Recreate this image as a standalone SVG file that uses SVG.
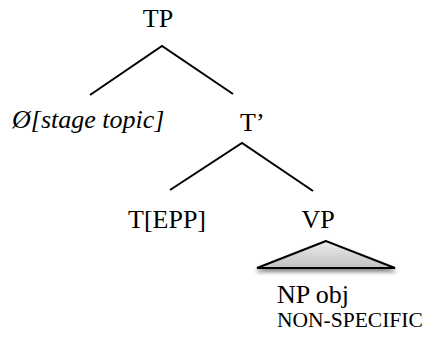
<svg xmlns="http://www.w3.org/2000/svg" width="425" height="337" viewBox="0 0 425 337">
  <style>
    .edge { stroke: #000; stroke-width: 2; fill: none; stroke-linecap: butt; }
  </style>
  <defs>
    <linearGradient id="triFill" x1="0" y1="0" x2="0" y2="1">
      <stop offset="0" stop-color="#ececec"/>
      <stop offset="1" stop-color="#c2c2c2"/>
    </linearGradient>
    <filter id="shadow" x="-20%" y="-20%" width="140%" height="180%">
      <feGaussianBlur in="SourceAlpha" stdDeviation="2"/>
      <feOffset dx="0" dy="3" result="b"/>
      <feComponentTransfer><feFuncA type="linear" slope="0.5"/></feComponentTransfer>
      <feMerge><feMergeNode/><feMergeNode in="SourceGraphic"/></feMerge>
    </filter>
  </defs>
  <rect width="425" height="337" fill="#fff"/>
  <g id="connectors">
    <path class="edge" d="M90,95 L162,46 L233,94"/>
    <path class="edge" d="M170,190 L242,143 L313,191"/>
  </g>
  <g font-family="Liberation Serif" font-size="26" fill="#000">
    <g id="TP"><text x="158" y="27" text-anchor="middle">TP</text></g>
    <g id="stage-topic"><text font-style="italic" x="12" y="128">Ø[stage topic]</text></g>
    <g id="Tbar"><text x="240" y="131">T’</text></g>
    <g id="TEPP"><text x="128" y="228">T[EPP]</text></g>
    <g id="VP"><text x="318" y="228" text-anchor="middle">VP</text></g>
    <g id="NP-triangle">
      <polygon points="326,241 257,268 395,268" fill="url(#triFill)" stroke="#000" stroke-width="2" stroke-linejoin="miter" filter="url(#shadow)"/>
    </g>
    <g id="NPobj">
      <text x="277" y="303">NP obj</text>
      <text font-size="21.5" x="277" y="327">NON-SPECIFIC</text>
    </g>
  </g>
</svg>
